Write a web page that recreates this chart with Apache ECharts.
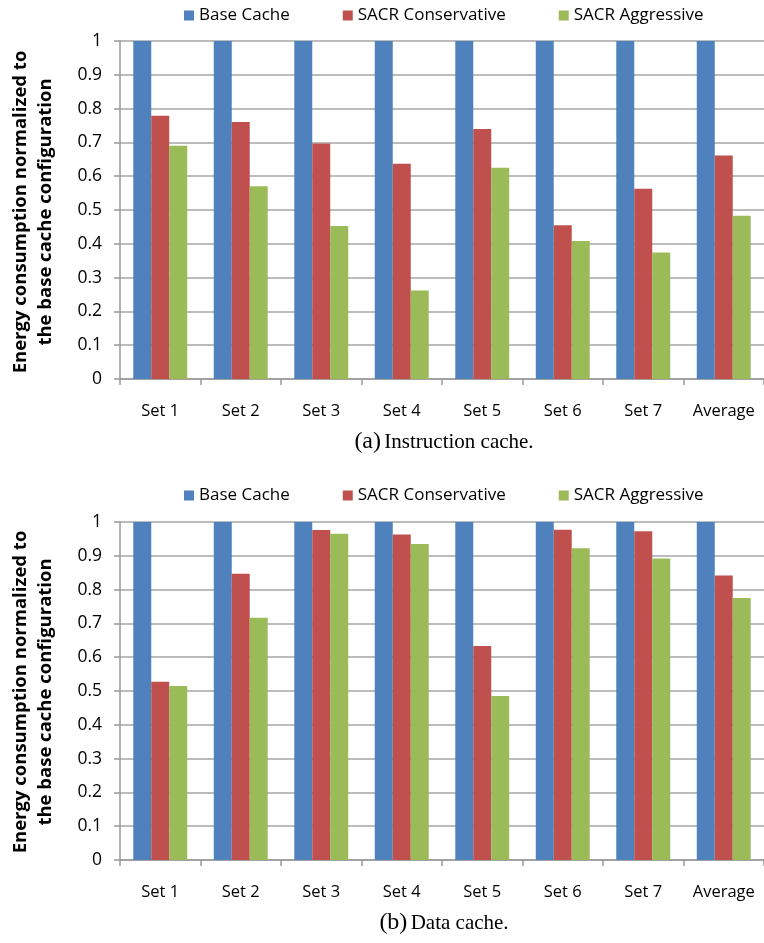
<!DOCTYPE html>
<html><head><meta charset="utf-8">
<script src="https://cdn.jsdelivr.net/npm/echarts@6/dist/echarts.min.js"></script>
<style>html,body{margin:0;padding:0;background:#fff}#c{width:764px;height:943px}</style>
</head><body><div id="c"></div>
<script>
const categories = ['Set 1','Set 2','Set 3','Set 4','Set 5','Set 6','Set 7','Average'];
const seriesNames = ['Base Cache','SACR Conservative','SACR Aggressive'];
const instrBase = [1,1,1,1,1,1,1,1];
const instrCons = [0.779,0.760,0.697,0.637,0.740,0.455,0.563,0.661];
const instrAggr = [0.690,0.570,0.453,0.262,0.625,0.408,0.374,0.483];
const dataBase = [1,1,1,1,1,1,1,1];
const dataCons = [0.527,0.847,0.976,0.963,0.633,0.977,0.973,0.842];
const dataAggr = [0.515,0.717,0.965,0.935,0.485,0.922,0.892,0.775];
const colors = ['#4F81BD','#C0504D','#9BBB59'];
const font = 'Open Sans';

const chart = echarts.init(document.getElementById('c'), null, {renderer:'canvas'});
function xAx(gi){return {type:'category',gridIndex:gi,data:categories,
  axisLine:{lineStyle:{color:'#999',width:1.5}},
  axisTick:{show:true,length:6,lineStyle:{color:'#999',width:1.5}},
  axisLabel:{interval:0,hideOverlap:false,color:'#000',fontFamily:font,fontSize:16.5,margin:24}};}
function yAx(gi){return {type:'value',gridIndex:gi,min:0,max:1,interval:0.1,
  axisLine:{show:true,lineStyle:{color:'#999',width:1.5}},
  axisTick:{show:true,length:6,lineStyle:{color:'#999',width:1.5}},
  splitLine:{lineStyle:{color:'#a6a6a6',width:1.5}},
  axisLabel:{color:'#000',fontFamily:font,fontSize:17.5,margin:18}};}
function bar(name,data,gi,ci){return {type:'bar',name:name,xAxisIndex:gi,yAxisIndex:gi,data:data,
  itemStyle:{color:colors[ci]},barGap:'0%',barCategoryGap:'33%',animation:false};}
const legendCommon = {left:179,itemWidth:10,itemHeight:10,itemGap:53,icon:'rect',
  textStyle:{fontFamily:font,fontSize:17,color:'#000'},data:seriesNames,selectedMode:false};
const titleStyle = {fontFamily:font,fontWeight:'bold',fontSize:18.5,fill:'#000',textAlign:'center',textVerticalAlign:'middle'};
const capRich = {a:{fontFamily:'Liberation Serif',fontSize:24,fill:'#000'},b:{fontFamily:'Liberation Serif',fontSize:21,fill:'#000'}};
chart.setOption({
  animation:false,
  grid:[{left:120,top:41,width:650,height:338},{left:120,top:522,width:650,height:338}],
  legend:[Object.assign({top:2},legendCommon),Object.assign({top:482},legendCommon)],
  xAxis:[xAx(0),xAx(1)],
  yAxis:[yAx(0),yAx(1)],
  series:[bar(seriesNames[0],instrBase,0,0),bar(seriesNames[1],instrCons,0,1),bar(seriesNames[2],instrAggr,0,2),
          bar(seriesNames[0],dataBase,1,0),bar(seriesNames[1],dataCons,1,1),bar(seriesNames[2],dataAggr,1,2)],
  graphic:[
    {type:'text',x:33,y:212,rotation:Math.PI/2,style:Object.assign({text:'Energy consumption normalized to\nthe base cache configuration',lineHeight:25},titleStyle)},
    {type:'text',x:33,y:692,rotation:Math.PI/2,style:Object.assign({text:'Energy consumption normalized to\nthe base cache configuration',lineHeight:25},titleStyle)},
    {type:'text',x:444,y:442,style:{text:'{a|(a)} {b|Instruction cache.}',textAlign:'center',textVerticalAlign:'middle',rich:capRich}},
    {type:'text',x:444,y:923,style:{text:'{a|(b)} {b|Data cache.}',textAlign:'center',textVerticalAlign:'middle',rich:capRich}}
  ]
});
</script></body></html>
